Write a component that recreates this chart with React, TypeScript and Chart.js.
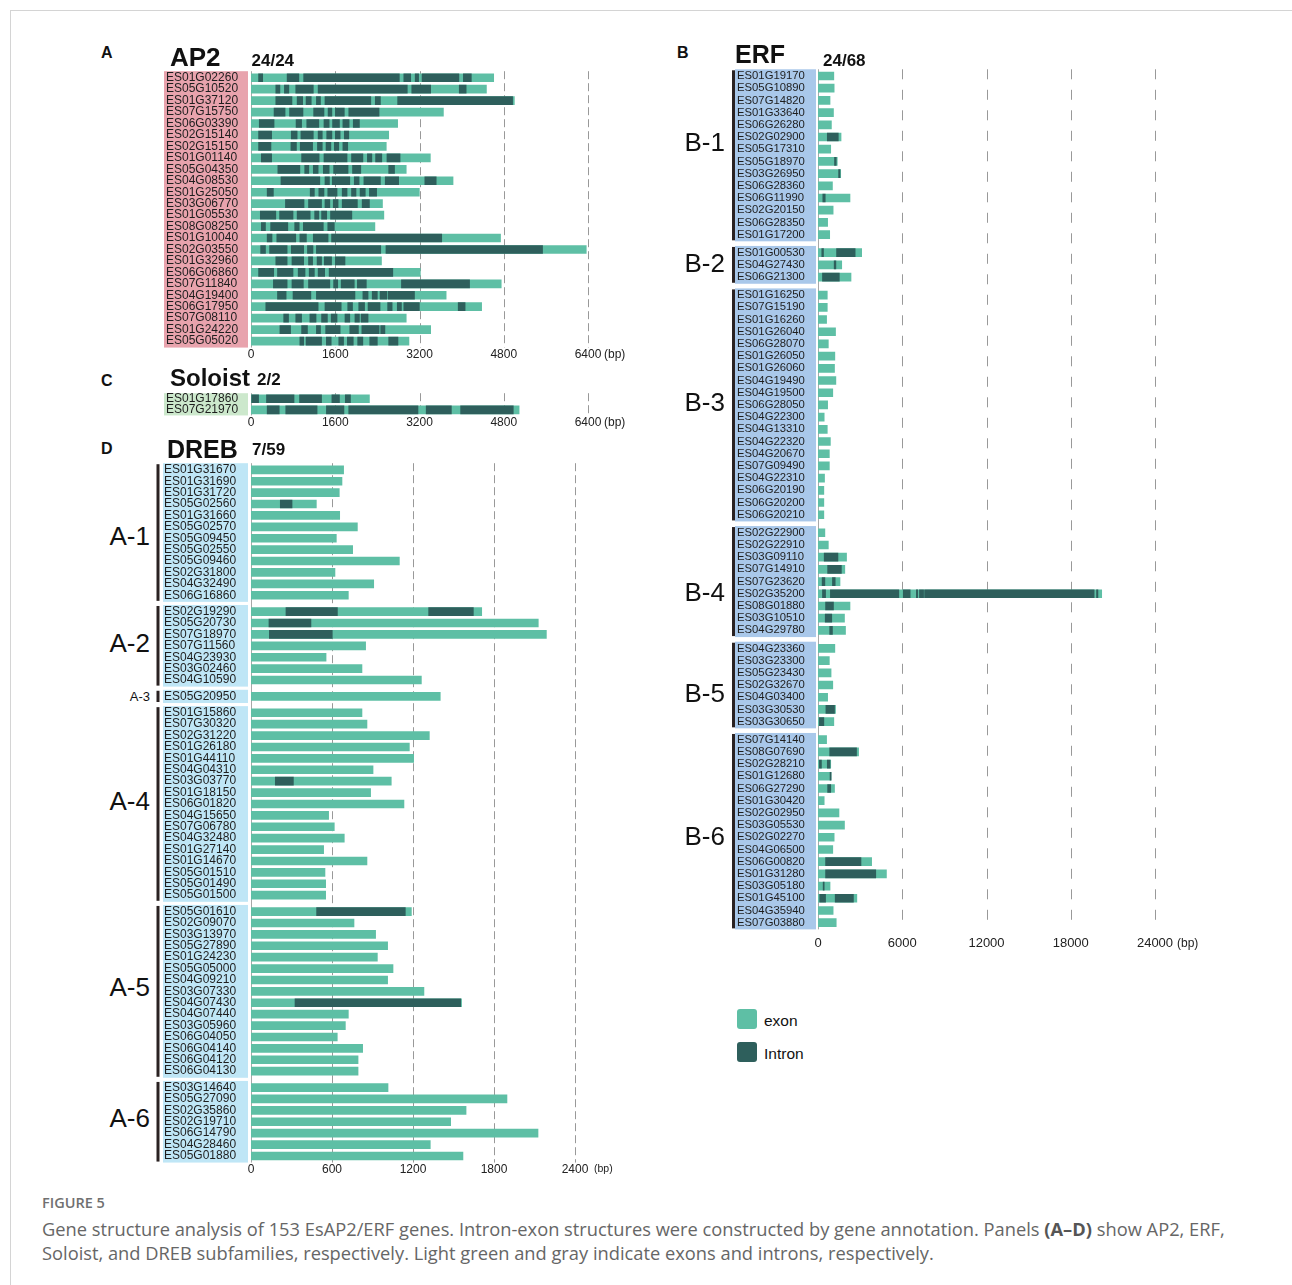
import React, { useEffect, useRef } from 'react';
import { Chart, registerables } from 'chart.js';

Chart.register(...registerables);

const FONT = '"Liberation Sans", Arial, Helvetica, sans-serif';
const CAPTION_FONT = '"Open Sans", "Liberation Sans", Arial, sans-serif';
const EXON = '#5ebfa5';
const INTRON = '#2e5f5c';
Chart.defaults.font.family = FONT;

type Seg = [number, number];

// ---------------- DATA ----------------
const AP2_TICKS = [0, 1600, 3200, 4800, 6400];
const DREB_TICKS = [0, 600, 1200, 1800, 2400];
const ERF_TICKS = [0, 6000, 12000, 18000, 24000];

const AP2_GENES = [
  'ES01G02260', 'ES05G10520', 'ES01G37120', 'ES07G15750', 'ES06G03390', 'ES02G15140',
  'ES02G15150', 'ES01G01140', 'ES05G04350', 'ES04G08530', 'ES01G25050', 'ES03G06770',
  'ES01G05530', 'ES08G08250', 'ES01G10040', 'ES02G03550', 'ES01G32960', 'ES06G06860',
  'ES07G11840', 'ES04G19400', 'ES06G17950', 'ES07G08110', 'ES01G24220', 'ES05G05020',
];
const AP2_LENGTHS = [
  4609, 4471, 5001, 3654, 2785, 2615, 2569, 3406, 2948, 3837, 3197, 2497,
  2523, 2353, 4739, 6367, 2478, 3216, 4752, 3706, 4380, 2948, 3412, 3000,
];
const AP2_INTRONS: Seg[][] = [
  [[144, 222], [686, 909], [1000, 2817], [2902, 3033], [3118, 3183], [3249, 3948], [4033, 4184]],
  [[471, 549], [634, 719], [850, 1183], [1275, 2968], [3053, 3412], [3955, 4086]],
  [[471, 778], [876, 981], [1046, 1144], [1242, 1320], [1405, 2275], [2360, 2458], [2785, 4968]],
  [[438, 647], [732, 987], [1190, 1386], [1464, 1536], [1602, 1772], [1857, 2432]],
  [[157, 438], [856, 961], [1059, 1288], [1386, 1484], [1549, 1680], [1745, 1863], [1942, 2059]],
  [[144, 392], [765, 876], [948, 1183], [1275, 1353], [1438, 1536], [1602, 1693], [1772, 1857]],
  [[144, 379], [758, 863], [935, 1170], [1262, 1353], [1425, 1517], [1582, 1667], [1745, 1837]],
  [[196, 392], [961, 1294], [1386, 1824], [1909, 2125], [2210, 2295], [2366, 2484], [2582, 2831]],
  [[510, 928], [1020, 1098], [1183, 1275], [1373, 1484], [1569, 1843], [1928, 2085], [2615, 2726]],
  [[569, 1307], [1405, 1490], [1543, 1876], [1961, 2053], [2144, 2458], [2549, 2804], [3301, 3517]],
  [[307, 425], [1124, 1203], [1288, 1386], [1458, 1634], [1732, 1824], [1909, 1994], [2072, 2170], [2249, 2386]],
  [[654, 1007], [1092, 1340], [1405, 1497], [1562, 1654], [1732, 2020], [2111, 2249]],
  [[177, 471], [543, 798], [876, 1124], [1209, 1288], [1340, 1438], [1510, 1915]],
  [[196, 275], [373, 699], [830, 915], [994, 1373], [1458, 1582]],
  [[307, 399], [490, 850], [928, 1052], [1183, 1464], [1530, 3622]],
  [[183, 275], [353, 686], [765, 1000], [1072, 1177], [1242, 2464], [2563, 5537]],
  [[471, 686], [778, 1000], [1092, 1170], [1255, 1340], [1392, 1530], [1602, 1785]],
  [[144, 431], [503, 798], [896, 1026], [1105, 1203], [1275, 1399], [1484, 2693]],
  [[425, 686], [778, 994], [1092, 1497], [1569, 1647], [1713, 1961], [2020, 2190], [2857, 4151]],
  [[503, 667], [798, 1137], [1242, 1974], [2125, 2223], [2302, 2399], [2451, 2582], [2608, 3105]],
  [[281, 1275], [1405, 1713], [1837, 1928], [2046, 2157], [2223, 2451], [2595, 2680], [2778, 2857], [2902, 3197], [3935, 4066]],
  [[621, 713], [850, 961], [1118, 1235], [1340, 1451], [1523, 1634], [1785, 1876], [1974, 2059], [2092, 2223]],
  [[549, 752], [961, 1072], [1242, 1320], [1418, 1693], [1876, 2040], [2105, 2432], [2464, 2543]],
  [[928, 1000], [1046, 1340], [1431, 1523], [1667, 1758], [1830, 1942], [2026, 2124], [2255, 2399], [2615, 2791]],
];

const SOLOIST_GENES = ['ES01G17860', 'ES07G21970'];
const SOLOIST_LENGTHS = [2249, 5092];
const SOLOIST_INTRONS: Seg[][] = [
  [[13, 144], [294, 817], [922, 1340], [1536, 1680], [1791, 1889]],
  [[307, 536], [660, 1255], [1432, 1765], [1856, 3171], [3327, 3805], [3981, 4981]],
];

const DREB_GROUPS = ['A-1', 'A-2', 'A-3', 'A-4', 'A-5', 'A-6'];
const DREB_GROUP_SIZES = [12, 7, 1, 17, 15, 7];
const DREB_GENES = [
  'ES01G31670', 'ES01G31690', 'ES01G31720', 'ES05G02560', 'ES01G31660', 'ES05G02570',
  'ES05G09450', 'ES05G02550', 'ES05G09460', 'ES02G31800', 'ES04G32490', 'ES06G16860',
  'ES02G19290', 'ES05G20730', 'ES07G18970', 'ES07G11560', 'ES04G23930', 'ES03G02460', 'ES04G10590',
  'ES05G20950',
  'ES01G15860', 'ES07G30320', 'ES02G31220', 'ES01G26180', 'ES01G44110', 'ES04G04310',
  'ES03G03770', 'ES01G18150', 'ES06G01820', 'ES04G15650', 'ES07G06780', 'ES04G32480',
  'ES01G27140', 'ES01G14670', 'ES05G01510', 'ES05G01490', 'ES05G01500',
  'ES05G01610', 'ES02G09070', 'ES03G13970', 'ES05G27890', 'ES01G24230', 'ES05G05000',
  'ES04G09210', 'ES03G07330', 'ES04G07430', 'ES04G07440', 'ES03G05960', 'ES06G04050',
  'ES06G04140', 'ES06G04120', 'ES06G04130',
  'ES03G14640', 'ES05G27090', 'ES02G35860', 'ES02G19710', 'ES06G14790', 'ES04G28460', 'ES05G01880',
];
const DREB_LENGTHS = [
  686, 674, 654, 484, 657, 788, 632, 753, 1099, 622, 909, 721,
  1709, 2128, 2188, 849, 556, 822, 1262,
  1402,
  822, 859, 1321, 1173, 1205, 904, 1039, 886, 1133, 575, 617, 691, 538, 859, 548, 553, 553,
  1188, 763, 923, 1012, 936, 1052, 1012, 1281, 1560, 721, 699, 639, 827, 793, 793,
  1015, 1896, 1593, 1479, 2126, 1328, 1570,
];
const DREB_INTRONS: Seg[][] = [
  [], [], [], [[217, 304]], [], [], [], [], [], [], [], [],
  [[259, 640], [1316, 1647]], [[133, 444]], [[136, 602]], [], [], [], [],
  [],
  [], [], [], [], [], [], [[180, 314]], [], [], [], [], [], [], [], [], [], [],
  [[486, 1143]], [], [], [], [], [], [], [], [[326, 1553]], [], [], [], [], [], [],
  [], [], [], [], [], [], [],
];

const ERF_GROUPS = ['B-1', 'B-2', 'B-3', 'B-4', 'B-5', 'B-6'];
const ERF_GROUP_SIZES = [14, 3, 19, 9, 7, 16];
const ERF_GENES = [
  'ES01G19170', 'ES05G10890', 'ES07G14820', 'ES01G33640', 'ES06G26280', 'ES02G02900', 'ES05G17310',
  'ES05G18970', 'ES03G26950', 'ES06G28360', 'ES06G11990', 'ES02G20150', 'ES06G28350', 'ES01G17200',
  'ES01G00530', 'ES04G27430', 'ES06G21300',
  'ES01G16250', 'ES07G15190', 'ES01G16260', 'ES01G26040', 'ES06G28070', 'ES01G26050', 'ES01G26060',
  'ES04G19490', 'ES04G19500', 'ES06G28050', 'ES04G22300', 'ES04G13310', 'ES04G22320', 'ES04G20670',
  'ES07G09490', 'ES04G22310', 'ES06G20190', 'ES06G20200', 'ES06G20210',
  'ES02G22900', 'ES02G22910', 'ES03G09110', 'ES07G14910', 'ES07G23620', 'ES02G35200', 'ES08G01880',
  'ES03G10510', 'ES04G29780',
  'ES04G23360', 'ES03G23300', 'ES05G23430', 'ES02G32670', 'ES04G03400', 'ES03G30530', 'ES03G30650',
  'ES07G14140', 'ES08G07690', 'ES02G28210', 'ES01G12680', 'ES06G27290', 'ES01G30420', 'ES02G02950',
  'ES03G05530', 'ES02G02270', 'ES04G06500', 'ES06G00820', 'ES01G31280', 'ES03G05180', 'ES01G45100',
  'ES04G35940', 'ES07G03880',
];
const ERF_LENGTHS = [
  1127, 1151, 857, 1102, 955, 1641, 906, 1371, 1616, 1029, 2278, 1078, 686, 833,
  3110, 1690, 2351,
  661, 661, 612, 1249, 735, 1200, 1176, 1273, 1053, 686, 441, 661, 882, 808, 808, 465, 416, 416, 416,
  490, 735, 2033, 1910, 1567, 20204, 2278, 1886, 1959,
  1200, 808, 931, 1053, 686, 1249, 1127,
  612, 2890, 906, 931, 1176, 441, 1494, 1886, 1151, 1053, 3820, 4874, 857, 2767, 1078, 1298,
];
const ERF_INTRONS: Seg[][] = [
  [], [], [], [], [], [[661, 1445]], [], [[1176, 1298]], [[1469, 1567]], [], [[343, 514]], [], [], [],
  [[269, 392], [1322, 2645]], [[1151, 1273]], [[318, 1518]],
  [], [], [], [], [], [], [], [], [], [], [], [], [], [], [], [], [], [], [],
  [], [], [[441, 1420]], [[686, 1665]], [[294, 490], [1029, 1224]],
  [[318, 539], [882, 5755], [6073, 6563], [7004, 7102], [7224, 7518], [7592, 19665], [19837, 19935]],
  [[539, 1102]], [[514, 980]], [[833, 1029]],
  [], [], [], [], [], [[563, 1176]], [[98, 416]],
  [], [[833, 2743]], [[98, 245], [661, 857]], [[857, 931]], [[686, 906]], [], [], [], [], [],
  [[539, 3061]], [[539, 4114]], [[367, 441]], [[122, 539], [1224, 2522]], [], [],
];

// ---------------- LAYOUT ----------------
interface PanelCfg {
  id: string;
  genes: string[];
  lengths: number[];
  introns: Seg[][];
  groupSizes: number[];
  ticks: number[];
  gap: number;
  firstRowY: number;
  pitch: number;
  padUnits: number;
  areaLeft: number;
  areaRight: number;
  labelX: number;
  boxLeft: number;
  boxRight: number;
  boxColor: string;
  bracketX?: number;
  canvas: { left: number; top: number; width: number; height: number };
  labelFont: number;
  tickFont: number;
  tickPad: number;
  dash: number[];
  bpOffset: number;
  bpFont: number;
  bpDy: number;
  barH: number;
}

const X_AXIS_H = 24;

function rowPositions(sizes: number[], gap: number): number[] {
  const out: number[] = [];
  let idx = 0;
  sizes.forEach((n, g) => {
    for (let k = 0; k < n; k++) {
      out.push(idx + g * gap);
      idx++;
    }
  });
  return out;
}

function groupRanges(sizes: number[], gap: number): [number, number][] {
  const pos = rowPositions(sizes, gap);
  const out: [number, number][] = [];
  let idx = 0;
  sizes.forEach((n) => {
    out.push([pos[idx], pos[idx + n - 1]]);
    idx += n;
  });
  return out;
}

const AP2_PANEL: PanelCfg = {
  id: 'ap2', genes: AP2_GENES, lengths: AP2_LENGTHS, introns: AP2_INTRONS,
  groupSizes: [AP2_GENES.length], ticks: AP2_TICKS, gap: 0,
  firstRowY: 77.7, pitch: 11.45, padUnits: 0.57,
  areaLeft: 251, areaRight: 588, labelX: 166, boxLeft: 164, boxRight: 248, boxColor: '#e8a3ad',
  canvas: { left: 158, top: 64, width: 500, height: 310 },
  labelFont: 12, tickFont: 12, tickPad: 0, dash: [8, 4], bpOffset: 16, bpFont: 12, bpDy: 0, barH: 8,
};

const SOLOIST_PANEL: PanelCfg = {
  id: 'sol', genes: SOLOIST_GENES, lengths: SOLOIST_LENGTHS, introns: SOLOIST_INTRONS,
  groupSizes: [SOLOIST_GENES.length], ticks: AP2_TICKS, gap: 0,
  firstRowY: 398.2, pitch: 11.5, padUnits: 0.5,
  areaLeft: 251, areaRight: 588, labelX: 166, boxLeft: 164, boxRight: 248, boxColor: '#cce8cc',
  canvas: { left: 158, top: 386, width: 500, height: 56 },
  labelFont: 12, tickFont: 12, tickPad: 0, dash: [8, 4], bpOffset: 16, bpFont: 12, bpDy: 0, barH: 8,
};

const DREB_PANEL: PanelCfg = {
  id: 'dreb', genes: DREB_GENES, lengths: DREB_LENGTHS, introns: DREB_INTRONS,
  groupSizes: DREB_GROUP_SIZES, ticks: DREB_TICKS, gap: 0.436,
  firstRowY: 469.3, pitch: 11.41, padUnits: 0.58,
  areaLeft: 251, areaRight: 575, labelX: 164, boxLeft: 163, boxRight: 248, boxColor: '#bfe6f6',
  bracketX: 156.5,
  canvas: { left: 150, top: 456, width: 500, height: 740 },
  labelFont: 12, tickFont: 12, tickPad: 0, dash: [8, 4], bpOffset: 19, bpFont: 10.5, bpDy: -1, barH: 8,
};

const ERF_PANEL: PanelCfg = {
  id: 'erf', genes: ERF_GENES, lengths: ERF_LENGTHS, introns: ERF_INTRONS,
  groupSizes: ERF_GROUP_SIZES, ticks: ERF_TICKS, gap: 0.48,
  firstRowY: 76, pitch: 12.2, padUnits: 0.55,
  areaLeft: 818, areaRight: 1155, labelX: 737, boxLeft: 735, boxRight: 816, boxColor: '#a9c8ea',
  bracketX: 732,
  canvas: { left: 726, top: 62, width: 520, height: 905 },
  labelFont: 11.3, tickFont: 13, tickPad: 6, dash: [10, 10.5], bpOffset: 22, bpFont: 12, bpDy: 0, barH: 8,
};

// vertical offsets (px) of the group labels relative to group centre
const DREB_LABEL_SHIFT = [4, -3, 0, -3, -5, -4];
const ERF_LABEL_SHIFT = [-14, -2, -3, 10, 8, 5];

function buildConfig(p: PanelCfg): any {
  const pos = rowPositions(p.groupSizes, p.gap);
  const last = pos[pos.length - 1];
  const areaTop = p.firstRowY - p.padUnits * p.pitch;
  const areaBottom = p.firstRowY + (last + p.padUnits) * p.pitch;
  const c = p.canvas;
  const ranges = groupRanges(p.groupSizes, p.gap);
  const maxIntrons = Math.max(0, ...p.introns.map((a) => a.length));

  const barOpts = {
    borderWidth: 0,
    grouped: false,
    barPercentage: 1,
    categoryPercentage: 1,
    maxBarThickness: p.barH,
  };

  const datasets: any[] = [
    {
      label: 'exon',
      order: 1,
      data: p.lengths.map((len, i) => ({ x: [0, len], y: pos[i] })),
      backgroundColor: EXON,
      ...barOpts,
    },
  ];
  for (let k = 0; k < maxIntrons; k++) {
    datasets.push({
      label: 'Intron',
      order: 0,
      data: p.introns.flatMap((arr, i) => (arr[k] ? [{ x: arr[k], y: pos[i] }] : [])),
      backgroundColor: INTRON,
      ...barOpts,
    });
  }

  const decor = {
    id: 'decor_' + p.id,
    beforeDraw(chart: any) {
      const { ctx } = chart;
      const y = chart.scales.y;
      ctx.save();
      ranges.forEach(([s, e]) => {
        const y0 = y.getPixelForValue(s - p.padUnits);
        const y1 = y.getPixelForValue(e + p.padUnits);
        ctx.fillStyle = p.boxColor;
        ctx.fillRect(p.boxLeft - c.left, y0, p.boxRight - p.boxLeft, y1 - y0);
        if (p.bracketX !== undefined) {
          ctx.fillStyle = '#2a2222';
          ctx.fillRect(p.bracketX - c.left, y0 + 1, 3, y1 - y0 - 2);
        }
      });
      ctx.restore();
    },
    beforeDatasetsDraw(chart: any) {
      const { ctx, chartArea: a } = chart;
      const x = chart.scales.x;
      ctx.save();
      p.ticks.forEach((v) => {
        const px = Math.round(x.getPixelForValue(v)) + 0.5;
        ctx.beginPath();
        ctx.strokeStyle = v === 0 ? '#a8a8a8' : '#999999';
        ctx.lineWidth = 1;
        ctx.setLineDash(v === 0 ? [] : p.dash);
        ctx.moveTo(px, a.top);
        ctx.lineTo(px, a.bottom);
        ctx.stroke();
      });
      ctx.restore();
    },
    afterDraw(chart: any) {
      const { ctx, chartArea: a } = chart;
      const x = chart.scales.x;
      ctx.save();
      ctx.font = `${p.bpFont}px ${FONT}`;
      ctx.fillStyle = '#222';
      ctx.textBaseline = 'middle';
      ctx.textAlign = 'left';
      ctx.fillText('(bp)', x.getPixelForValue(x.max) + p.bpOffset, a.bottom + p.tickPad + 0.6 * p.tickFont + p.bpDy);
      ctx.restore();
    },
  };

  return {
    type: 'bar',
    data: { datasets },
    options: {
      animation: false,
      responsive: false,
      maintainAspectRatio: false,
      indexAxis: 'y',
      events: [],
      layout: {
        padding: {
          left: p.labelX - c.left,
          top: areaTop - c.top,
          right: c.left + c.width - p.areaRight,
          bottom: c.top + c.height - areaBottom - X_AXIS_H,
        },
      },
      plugins: { legend: { display: false }, tooltip: { enabled: false } },
      scales: {
        x: {
          type: 'linear',
          position: 'bottom',
          min: 0,
          max: p.ticks[p.ticks.length - 1],
          grid: { display: false, drawTicks: false },
          border: { display: false },
          ticks: {
            autoSkip: false,
            maxRotation: 0,
            padding: p.tickPad,
            color: '#222',
            font: { family: FONT, size: p.tickFont },
            callback: (v: any) => String(v),
          },
          afterBuildTicks: (s: any) => {
            s.ticks = p.ticks.map((v) => ({ value: v }));
          },
          afterFit: (s: any) => {
            s.height = X_AXIS_H;
          },
        },
        y: {
          type: 'linear',
          position: 'left',
          reverse: true,
          offset: false,
          min: -p.padUnits,
          max: last + p.padUnits,
          grid: { display: false, drawTicks: false },
          border: { display: false },
          ticks: {
            autoSkip: false,
            crossAlign: 'far',
            padding: 0,
            color: '#1e1e1e',
            font: { family: FONT, size: p.labelFont },
            callback: (_v: any, i: number) => p.genes[i],
          },
          afterBuildTicks: (s: any) => {
            s.ticks = pos.map((v) => ({ value: v }));
          },
          afterFit: (s: any) => {
            s.width = p.areaLeft - p.labelX;
          },
        },
      },
    },
    plugins: [decor],
  };
}

function ChartPanel({ p }: { p: PanelCfg }) {
  const ref = useRef<HTMLCanvasElement | null>(null);
  useEffect(() => {
    const chart = new Chart(ref.current as HTMLCanvasElement, buildConfig(p));
    return () => chart.destroy();
  }, [p]);
  const c = p.canvas;
  return (
    <canvas
      ref={ref}
      width={c.width}
      height={c.height}
      style={{ position: 'absolute', left: c.left, top: c.top, width: c.width, height: c.height }}
    />
  );
}

// text helper: baseline positioned
function T(props: { x: number; base: number; size: number; bold?: boolean; children: any; color?: string }) {
  const { x, base, size, bold, children, color } = props;
  return (
    <div
      style={{
        position: 'absolute',
        left: x,
        top: base - 0.8465 * size,
        fontSize: size,
        lineHeight: 1,
        fontWeight: bold ? 700 : 400,
        fontFamily: FONT,
        color: color || '#111',
        whiteSpace: 'nowrap',
      }}
    >
      {children}
    </div>
  );
}

function GroupLabels({ p, names, shifts, right }: { p: PanelCfg; names: string[]; shifts: number[]; right: number }) {
  const ranges = groupRanges(p.groupSizes, p.gap);
  return (
    <>
      {ranges.map(([s, e], g) => {
        const cy = p.firstRowY + ((s + e) / 2) * p.pitch + shifts[g];
        const size = p.groupSizes[g] === 1 ? 13 : 26;
        return (
          <div
            key={names[g]}
            style={{
              position: 'absolute',
              left: right - 200,
              width: 200,
              top: cy - 0.4885 * size,
              textAlign: 'right',
              fontSize: size,
              lineHeight: 1,
              fontFamily: FONT,
              color: '#111',
            }}
          >
            {names[g]}
          </div>
        );
      })}
    </>
  );
}

export default function App() {
  return (
    <div
      style={{
        position: 'absolute',
        left: 0,
        top: 0,
        width: 1292,
        height: 1285,
        background: '#fff',
        overflow: 'hidden',
        fontFamily: FONT,
      }}
    >
      <div
        style={{
          position: 'absolute',
          left: 10,
          top: 10,
          right: 0,
          bottom: 0,
          borderTop: '1px solid #d4d4d4',
          borderLeft: '1px solid #d4d4d4',
        }}
      />

      <ChartPanel p={AP2_PANEL} />
      <ChartPanel p={SOLOIST_PANEL} />
      <ChartPanel p={DREB_PANEL} />
      <ChartPanel p={ERF_PANEL} />

      {/* panel titles */}
      <T x={101} base={58.5} size={16} bold>A</T>
      <T x={170} base={66} size={26} bold>AP2</T>
      <T x={251.5} base={66} size={17} bold>24/24</T>

      <T x={677} base={58.5} size={16} bold>B</T>
      <T x={735} base={63.5} size={25} bold>ERF</T>
      <T x={823} base={66} size={17} bold>24/68</T>

      <T x={101} base={386.7} size={16} bold>C</T>
      <T x={170} base={386.7} size={24} bold>Soloist</T>
      <T x={257} base={385.5} size={17} bold>2/2</T>

      <T x={101} base={455} size={16} bold>D</T>
      <T x={167} base={458.3} size={25} bold>DREB</T>
      <T x={252} base={455} size={17} bold>7/59</T>

      <GroupLabels p={DREB_PANEL} names={DREB_GROUPS} shifts={DREB_LABEL_SHIFT} right={150} />
      <GroupLabels p={ERF_PANEL} names={ERF_GROUPS} shifts={ERF_LABEL_SHIFT} right={725} />

      {/* legend */}
      <div style={{ position: 'absolute', left: 737, top: 1008.5, width: 19.5, height: 20, borderRadius: 3, background: EXON }} />
      <T x={764} base={1026} size={15.5}>exon</T>
      <div style={{ position: 'absolute', left: 737, top: 1042, width: 19.5, height: 20, borderRadius: 3, background: INTRON }} />
      <T x={764} base={1059} size={15.5}>Intron</T>

      {/* caption */}
      <div
        style={{
          position: 'absolute',
          left: 42,
          top: 1209 - 0.888 * 14.5,
          fontFamily: CAPTION_FONT,
          fontSize: 14.5,
          lineHeight: 1,
          fontWeight: 600,
          color: '#707070',
          whiteSpace: 'nowrap',
        }}
      >
        FIGURE 5
      </div>
      <div
        style={{
          position: 'absolute',
          left: 42,
          top: 1236 - 19.2,
          fontFamily: CAPTION_FONT,
          fontSize: 18.3,
          lineHeight: '24px',
          color: '#666',
          whiteSpace: 'nowrap',
        }}
      >
        Gene structure analysis of 153 EsAP2/ERF genes. Intron-exon structures were constructed by gene annotation. Panels{' '}
        <b style={{ color: '#555' }}>(A–D)</b> show AP2, ERF,
        <br />
        Soloist, and DREB subfamilies, respectively. Light green and gray indicate exons and introns, respectively.
      </div>
    </div>
  );
}
